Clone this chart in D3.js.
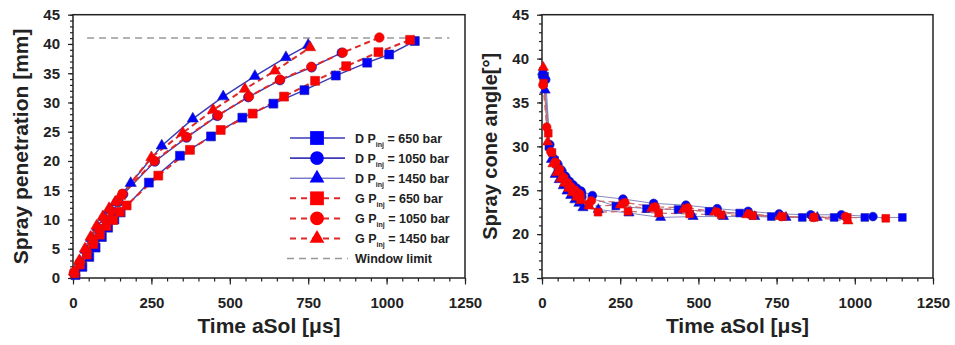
<!DOCTYPE html>
<html>
<head>
<meta charset="utf-8">
<script src="https://cdn.jsdelivr.net/npm/d3@7"></script>
<style>
body { margin: 0; background: #fff; }
svg text { font-family: "Liberation Sans", Arial, sans-serif; font-weight: bold; fill: #222; }
</style>
</head>
<body>
<svg id="chart" width="955" height="345"></svg>
<script>
// ---- left chart: spray penetration [mm] vs time [us]
var penD650T  = [8, 30, 52, 72, 92, 112, 132, 152, 242, 341, 440, 540, 639, 738, 838, 938, 1008, 1090];
var penD650   = [0.5, 1.9, 3.6, 5.2, 7.0, 8.6, 10.0, 11.2, 16.3, 20.9, 24.2, 27.4, 29.8, 32.1, 34.6, 36.8, 38.2, 40.5];
var penD1050T = [5, 25, 45, 65, 85, 105, 125, 145, 160, 261, 362, 460, 559, 660, 761, 857];
var penD1050  = [0.7, 2.5, 4.5, 6.5, 8.3, 9.9, 11.3, 13.0, 14.3, 19.9, 24.0, 27.7, 30.9, 33.8, 36.0, 38.5];
var penD1450T = [5, 22, 40, 58, 78, 98, 118, 135, 184, 283, 382, 479, 580, 679, 750];
var penD1450  = [1.0, 2.8, 4.8, 6.8, 8.7, 10.4, 11.7, 12.9, 16.2, 22.6, 27.2, 31.0, 34.5, 37.7, 39.8];
var penG650T  = [5, 22, 44, 65, 86, 107, 128, 150, 171, 272, 373, 471, 573, 673, 772, 871, 974, 1075];
var penG650   = [0.8, 2.3, 4.0, 5.8, 7.4, 8.9, 9.9, 11.3, 12.4, 17.5, 21.9, 25.3, 28.1, 31.0, 33.7, 36.2, 38.6, 40.7];
var penG1050T = [3, 22, 42, 62, 82, 102, 122, 142, 158, 260, 362, 462, 561, 660, 760, 860, 977];
var penG1050  = [0.9, 2.6, 4.6, 6.6, 8.4, 10.0, 11.4, 13.1, 14.4, 20.0, 24.1, 27.8, 31.0, 33.9, 36.1, 38.5, 41.1];
var penG1450T = [3, 20, 38, 56, 75, 95, 115, 135, 150, 250, 350, 447, 548, 644, 756];
var penG1450  = [1.1, 3.0, 5.0, 7.0, 8.9, 10.5, 11.9, 13.0, 14.0, 20.6, 24.8, 28.7, 32.3, 35.4, 39.4];

var windowLimit = 41;
var windowLimitRange = [45, 1200];

// ---- right chart: spray cone angle [deg] vs time [us]
var angD650T  = [3, 8, 22, 40, 52, 65, 78, 90, 102, 115, 128, 236, 334, 435, 534, 632, 733, 832, 934, 1032, 1152];
var angD650   = [38.3, 38.0, 30.0, 28.4, 27.6, 26.9, 26.2, 25.6, 25.1, 24.7, 24.4, 23.2, 22.9, 22.8, 22.6, 22.4, 22.0, 21.9, 21.9, 21.9, 21.9];
var angD1050T = [2, 12, 25, 38, 50, 62, 75, 88, 100, 112, 125, 161, 259, 357, 460, 560, 659, 758, 859, 957, 1058];
var angD1050  = [38.0, 37.6, 30.2, 28.6, 28.0, 27.3, 26.6, 26.0, 25.6, 25.2, 24.9, 24.4, 24.0, 23.5, 23.3, 22.9, 22.6, 22.3, 22.2, 22.2, 22.0];
var angD1450T = [2, 10, 30, 42, 55, 68, 80, 92, 105, 118, 131, 180, 278, 379, 483, 580, 680, 780, 880];
var angD1450  = [38.5, 36.4, 28.5, 26.8, 26.2, 25.5, 24.9, 24.4, 23.9, 23.5, 23.0, 22.8, 22.4, 21.9, 22.0, 22.0, 22.0, 21.9, 21.9];
var angG650T  = [5, 20, 32, 45, 57, 70, 83, 96, 110, 123, 150, 179, 275, 373, 472, 573, 674, 770, 870, 976, 1099];
var angG650   = [37.2, 31.5, 29.3, 28.0, 27.2, 26.3, 25.7, 25.0, 24.6, 24.1, 23.4, 22.5, 22.6, 22.4, 22.3, 22.2, 22.1, 22.0, 21.9, 21.9, 21.8];
var angG1050T = [3, 15, 28, 42, 55, 68, 80, 93, 106, 120, 158, 265, 362, 466, 560, 662, 765, 868, 970];
var angG1050  = [37.0, 32.2, 29.4, 28.2, 27.4, 26.5, 25.9, 25.4, 25.0, 24.6, 23.8, 23.6, 23.1, 23.0, 22.5, 22.3, 22.0, 21.9, 22.0];
var angG1450T = [4, 18, 35, 48, 60, 72, 85, 98, 112, 125, 150, 250, 350, 452, 552, 655, 760, 870, 978];
var angG1450  = [39.0, 30.5, 28.0, 27.0, 26.3, 25.8, 25.2, 24.7, 24.2, 23.8, 23.2, 23.3, 22.9, 22.8, 22.5, 22.2, 22.0, 21.9, 21.5];

var legendNames = ["D", "D", "D", "G", "G", "G"];
var legendPressures = ["650", "1050", "1450", "650", "1050", "1450"];
var xTicks = [0, 250, 500, 750, 1000, 1250];

var blue = "#0000ff", red = "#ff0000";
var shapes = [d3.symbolSquare, d3.symbolCircle, d3.symbolTriangle];

var svg = d3.select("#chart");

function zip(t, v) {
    return t.map(function(d, i) { return [d, v[i]]; });
}

function series(tt, vv) {
    // D first, G drawn on top
    return [
        {pts: zip(tt[0], vv[0]), shape: 0, fill: blue, dash: false},
        {pts: zip(tt[1], vv[1]), shape: 1, fill: blue, dash: false},
        {pts: zip(tt[2], vv[2]), shape: 2, fill: blue, dash: false},
        {pts: zip(tt[3], vv[3]), shape: 0, fill: red, dash: true},
        {pts: zip(tt[4], vv[4]), shape: 1, fill: red, dash: true},
        {pts: zip(tt[5], vv[5]), shape: 2, fill: red, dash: true}
    ];
}

function plot(box, yDomain, yTicks, yTitle, data, opts) {
    var x = d3.scaleLinear().domain([0, 1250]).range([box.x0, box.x1]);
    var y = d3.scaleLinear().domain(yDomain).range([box.y1, box.y0]);
    var g = svg.append("g");

    // minor ticks
    g.append("g")
        .attr("transform", "translate(0," + box.y1 + ")")
        .call(d3.axisBottom(x).tickValues(d3.range(0, 1251, 50)).tickSize(3.5).tickFormat(""))
        .call(function(a) { a.select(".domain").remove(); });
    g.append("g")
        .attr("transform", "translate(" + box.x0 + ",0)")
        .call(d3.axisLeft(y).tickValues(d3.range(yDomain[0], yDomain[1] + 1, 1)).tickSize(3).tickFormat(""))
        .call(function(a) { a.select(".domain").remove(); });

    // major ticks
    var ax = g.append("g")
        .attr("transform", "translate(0," + box.y1 + ")")
        .call(d3.axisBottom(x).tickValues(xTicks).tickSize(6.5).tickPadding(13).tickFormat(d3.format("d")));
    var ay = g.append("g")
        .attr("transform", "translate(" + box.x0 + ",0)")
        .call(d3.axisLeft(y).tickValues(yTicks).tickSize(5).tickPadding(8));
    [ax, ay].forEach(function(a) {
        a.selectAll(".domain").remove();
        a.selectAll("text").attr("font-size", 15).attr("font-family", null).attr("fill", "#222");
    });
    g.selectAll(".tick line").attr("stroke", "#222").attr("stroke-width", 1.2);

    // frame
    g.append("rect")
        .attr("x", box.x0).attr("y", box.y0)
        .attr("width", box.x1 - box.x0).attr("height", box.y1 - box.y0)
        .attr("fill", "none").attr("stroke", "#222").attr("stroke-width", 1.5);

    if (opts.limit) {
        g.append("line")
            .attr("x1", x(windowLimitRange[0])).attr("x2", x(windowLimitRange[1]))
            .attr("y1", y(windowLimit)).attr("y2", y(windowLimit))
            .attr("stroke", "#999").attr("stroke-width", 1.5).attr("stroke-dasharray", "7,5");
    }

    var line = d3.line().x(function(d) { return x(d[0]); }).y(function(d) { return y(d[1]); });
    data.forEach(function(s) {
        g.append("path")
            .attr("d", line(s.pts))
            .attr("fill", "none")
            .attr("stroke", s.dash ? opts.redLine : opts.blueLine)
            .attr("stroke-width", s.dash ? opts.dashWidth : opts.lineWidth)
            .attr("stroke-dasharray", s.dash ? "6,4" : null);
    });
    data.forEach(function(s) {
        g.selectAll(null)
            .data(s.pts)
            .enter().append("path")
            .attr("transform", function(d) { return "translate(" + x(d[0]) + "," + y(d[1]) + ")"; })
            .attr("d", d3.symbol().type(shapes[s.shape]).size(opts.sizes[s.shape]))
            .attr("fill", s.fill)
            .attr("stroke", s.fill == blue ? "#2020a0" : "#d01010")
            .attr("stroke-width", 0.6);
    });

    // axis titles
    g.append("text")
        .attr("x", (box.x0 + box.x1) / 2).attr("y", 333)
        .attr("text-anchor", "middle").attr("font-size", 21)
        .text("Time aSol [\u03bcs]");
    g.append("text")
        .attr("transform", "translate(" + opts.titleX + "," + ((box.y0 + box.y1) / 2) + ") rotate(-90)")
        .attr("text-anchor", "middle").attr("font-size", opts.titleSize)
        .text(yTitle);
}

plot({x0: 73, x1: 465, y0: 14.7, y1: 278}, [0, 45], d3.range(0, 46, 5), "Spray penetration [mm]",
    series([penD650T, penD1050T, penD1450T, penG650T, penG1050T, penG1450T],
           [penD650, penD1050, penD1450, penG650, penG1050, penG1450]),
    {limit: true, titleX: 28, titleSize: 21, blueLine: "#3a3ab8", redLine: "#e02828", lineWidth: 1.4, dashWidth: 2,
     sizes: [80, 72, 55]});

plot({x0: 542, x1: 933, y0: 14.7, y1: 278}, [15, 45], d3.range(15, 46, 5), "Spray cone angle[\u00b0]",
    series([angD650T, angD1050T, angD1450T, angG650T, angG1050T, angG1450T],
           [angD650, angD1050, angD1450, angG650, angG1050, angG1450]),
    {limit: false, titleX: 497, titleSize: 20, blueLine: "#7a7ab8", redLine: "#c86a6a", lineWidth: 0.9, dashWidth: 1.2,
     sizes: [60, 60, 45]});

// legend
var lg = svg.append("g");
var rowY = d3.range(7).map(function(i) { return 138 + i * 20.1; });
legendNames.forEach(function(n, i) {
    var isG = n == "G";
    var col = isG ? red : blue;
    lg.append("line")
        .attr("x1", 290).attr("x2", isG ? 340 : 345)
        .attr("y1", rowY[i]).attr("y2", rowY[i])
        .attr("stroke", isG ? "#e02828" : "#3a3ab8")
        .attr("stroke-width", isG ? 2 : (i == 2 ? 1 : 1.6))
        .attr("stroke-dasharray", isG ? "6,5" : null);
    lg.append("path")
        .attr("transform", "translate(317," + rowY[i] + ")")
        .attr("d", d3.symbol().type(shapes[i % 3]).size([190, 150, 95][i % 3]))
        .attr("fill", col);
    var t = lg.append("text")
        .attr("x", 355).attr("y", rowY[i] + 4.5)
        .attr("font-size", 12.5).attr("fill", "#333");
    t.append("tspan").text(n + " P");
    t.append("tspan").attr("font-size", 7).attr("dy", 4).text("inj");
    t.append("tspan").attr("dy", -4).text(" = " + legendPressures[i] + " bar");
});
lg.append("line")
    .attr("x1", 287).attr("x2", 348)
    .attr("y1", rowY[6]).attr("y2", rowY[6])
    .attr("stroke", "#999").attr("stroke-width", 1.5).attr("stroke-dasharray", "7,5");
lg.append("text")
    .attr("x", 355).attr("y", rowY[6] + 4.5)
    .attr("font-size", 12.5).attr("fill", "#333")
    .text("Window limit");
</script>
</body>
</html>
